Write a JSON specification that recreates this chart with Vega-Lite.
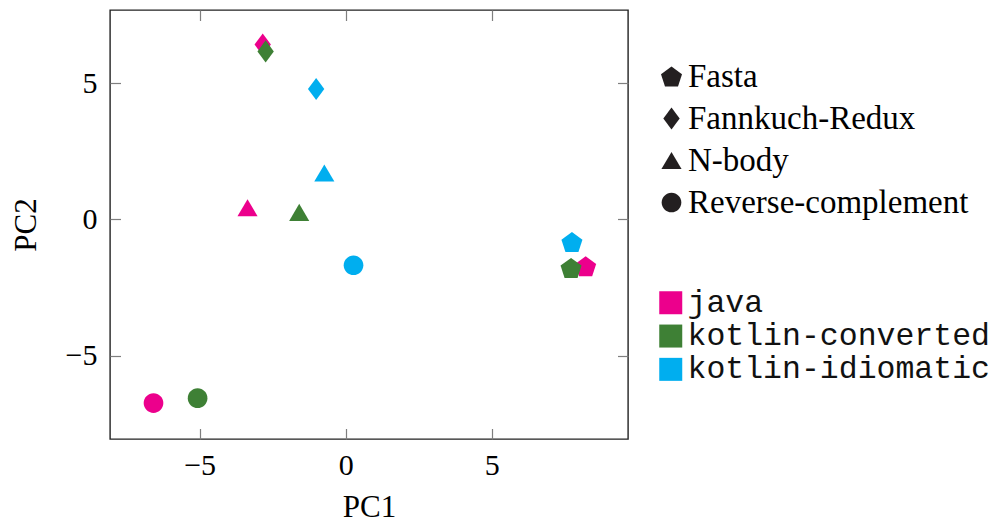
{
  "$schema": "https://vega.github.io/schema/vega-lite/v6.json",
  "width": 518,
  "height": 429,
  "autosize": {"type": "none"},
  "padding": {"left": 110, "top": 10, "right": 368, "bottom": 84},
  "background": "white",
  "config": {
    "view": {"stroke": "#222222", "strokeWidth": 1.4},
    "axis": {
      "grid": false,
      "domain": false,
      "tickColor": "#7f7f7f",
      "tickWidth": 1.2,
      "tickSize": -10.5,
      "labelFont": "Liberation Serif",
      "labelFontSize": 30,
      "labelColor": "#000000",
      "titleFont": "Liberation Serif",
      "titleFontSize": 31,
      "titleFontWeight": "normal",
      "titleColor": "#000000"
    }
  },
  "data": {
    "values": [
      {"lang": "java", "bench": "Fasta", "pc1": 8.22, "pc2": -1.72},
      {"lang": "java", "bench": "Fannkuch-Redux", "pc1": -2.84, "pc2": 6.42},
      {"lang": "java", "bench": "N-body", "pc1": -3.36, "pc2": 0.43},
      {"lang": "java", "bench": "Reverse-complement", "pc1": -6.58, "pc2": -6.74},
      {"lang": "kotlin-converted", "bench": "Fasta", "pc1": 7.72, "pc2": -1.78},
      {"lang": "kotlin-converted", "bench": "Fannkuch-Redux", "pc1": -2.74, "pc2": 6.17},
      {"lang": "kotlin-converted", "bench": "N-body", "pc1": -1.59, "pc2": 0.26},
      {"lang": "kotlin-converted", "bench": "Reverse-complement", "pc1": -5.07, "pc2": -6.56},
      {"lang": "kotlin-idiomatic", "bench": "Fasta", "pc1": 7.75, "pc2": -0.83},
      {"lang": "kotlin-idiomatic", "bench": "Fannkuch-Redux", "pc1": -1.01, "pc2": 4.79},
      {"lang": "kotlin-idiomatic", "bench": "N-body", "pc1": -0.73, "pc2": 1.71},
      {"lang": "kotlin-idiomatic", "bench": "Reverse-complement", "pc1": 0.27, "pc2": -1.68}
    ]
  },
  "layer": [
    {
      "mark": {"type": "point", "filled": true, "opacity": 1, "size": 488, "strokeWidth": 0},
      "encoding": {
        "x": {
          "field": "pc1", "type": "quantitative",
          "scale": {"domain": [-8.07, 9.67], "nice": false, "zero": false},
          "axis": {"values": [-5, 0, 5], "title": "PC1", "labelPadding": 22, "titlePadding": 12}
        },
        "y": {
          "field": "pc2", "type": "quantitative",
          "scale": {"domain": [-8.06, 7.69], "nice": false, "zero": false},
          "axis": {"values": [-5, 0, 5], "title": "PC2", "labelPadding": 23.5, "titlePadding": 23}
        },
        "color": {
          "field": "lang", "type": "nominal",
          "scale": {"domain": ["java", "kotlin-converted", "kotlin-idiomatic"], "range": ["#EC008C", "#3E8035", "#00AEEF"]},
          "legend": {
            "title": null,
            "orient": "none",
            "legendX": 545,
            "legendY": 277,
            "symbolType": "square",
            "symbolSize": 529,
            "symbolStrokeWidth": 0,
            "labelFont": "Liberation Mono",
            "labelFontSize": 31.5,
            "labelColor": "#111111",
            "labelOffset": 1,
            "labelLimit": 400,
            "rowPadding": 0.3
          }
        },
        "shape": {
          "field": "bench", "type": "nominal",
          "scale": {
            "domain": ["Fasta", "Fannkuch-Redux", "N-body", "Reverse-complement"],
            "range": [
              "M0,-0.905L0.951,-0.214L0.588,0.905L-0.588,0.905L-0.951,-0.214Z",
              "M0,-1L0.74,0L0,1L-0.74,0Z",
              "M0,-0.77L0.91,0.77L-0.91,0.77Z",
              "M0.89,0A0.89,0.89,0,1,1,-0.89,0A0.89,0.89,0,1,1,0.89,0Z"
            ]
          },
          "legend": {
            "title": null,
            "orient": "none",
            "legendX": 545,
            "legendY": 50,
            "symbolSize": 488,
            "symbolFillColor": "#231F20",
            "symbolStrokeWidth": 0,
            "labelFont": "Liberation Serif",
            "labelFontSize": 33,
            "labelColor": "#000000",
            "labelOffset": 0,
            "rowPadding": 8,
            "labelLimit": 400
          }
        }
      }
    },
    {
      "mark": {"type": "point", "opacity": 0},
      "encoding": {
        "x": {"field": "pc1", "type": "quantitative", "axis": {"orient": "top", "values": [-5, 0, 5], "labels": false, "title": null}},
        "y": {"field": "pc2", "type": "quantitative", "axis": {"orient": "right", "values": [-5, 0, 5], "labels": false, "title": null}}
      }
    }
  ],
  "resolve": {"axis": {"x": "independent", "y": "independent"}}
}
